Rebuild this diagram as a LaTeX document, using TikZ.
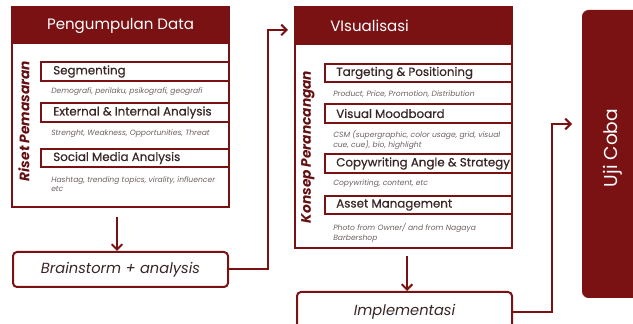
\documentclass[tikz,border=0pt]{standalone}
\usepackage{fontspec}
\setmainfont{Poppins}
\newfontfamily\itemfont[FakeBold=0.5]{Poppins}
\usetikzlibrary{arrows.meta,fit}
\definecolor{maroon}{RGB}{122,18,20}
\definecolor{sidered}{RGB}{100,16,18}
\definecolor{ink}{RGB}{58,38,38}
\definecolor{note}{RGB}{110,96,96}

\begin{document}
\begin{tikzpicture}[x=0.75pt,y=-0.75pt,
  box/.style={fit={#1},inner sep=0pt},
  frame/.style={draw=maroon,line width=1.5pt},
  headfill/.style={fill=maroon},
  headtext/.style={text=white,font=\fontsize{11.3}{13}\selectfont,inner sep=0pt},
  itembox/.style={draw=maroon,line width=0.8pt,fill=white},
  itemtext/.style={text=ink,font=\itemfont\fontsize{8.9}{10}\selectfont,inner sep=0pt,anchor=west},
  notetext/.style={text=note,font=\fontsize{5.7}{7.4}\selectfont\itshape,inner sep=0pt,anchor=north west,align=left},
  sidetext/.style={text=sidered,font=\fontsize{10.3}{12}\selectfont\bfseries\itshape,rotate=90,inner sep=0pt},
  roundbox/.style={draw=maroon,line width=1.5pt,rounded corners=3pt,fill=white},
  flowtext/.style={text=ink,font=\fontsize{11}{13}\selectfont\itshape,inner sep=0pt},
  link/.style={draw=maroon,line width=1.5pt,-{Straight Barb[length=4pt,width=8pt,line width=1.5pt]}},
]
\clip (0,0) rectangle (633,324);

% ---------- Pengumpulan Data ----------
\node[box={(12,7)(229,207)}] (panelA) {};
\node[box={(12,7)(229,44)},headfill] (hdrA) {};
\node[headtext] at (hdrA.center) {Pengumpulan Data};
\node[box={(41,62)(229,81)},itembox] (segA) {};
\node[itemtext] at (53,71.5) {Segmenting};
\node[notetext] at (51,87) {Demografi, perilaku, psikografi, geografi};
\node[box={(41,103)(229,122)},itembox] (extA) {};
\node[itemtext] at (53,112.5) {External \& Internal Analysis};
\node[notetext] at (51,129) {Strenght, Weakness, Opportunities, Threat};
\node[box={(41,149)(229,167)},itembox] (socA) {};
\node[itemtext] at (53,158) {Social Media Analysis};
\node[notetext] at (51,176) {Hashtag, trending topics, virality, influencer\\etc};
\node[sidetext] (sideA) at (24,121) {Riset Pemasaran};
\draw[frame] (panelA.north west) rectangle (panelA.south east);

% ---------- Visualisasi ----------
\node[box={(295,7)(512,248)}] (panelB) {};
\node[box={(295,7)(512,45)},headfill] (hdrB) {};
\node[headtext,anchor=west] at (330,26) {VIsualisasi};
\node[box={(325,64)(512,82)},itembox] (tgtB) {};
\node[itemtext] at (336,73) {Targeting \& Positioning};
\node[notetext] at (333,90) {Product, Price, Promotion, Distribution};
\node[box={(325,104)(512,123)},itembox] (visB) {};
\node[itemtext] at (336,113.5) {Visual Moodboard};
\node[notetext] at (333,130) {CSM (supergraphic, color usage, grid, visual\\cue, cue), bio, highlight};
\node[box={(325,154)(512,173)},itembox] (copB) {};
\node[itemtext] at (336,163.5) {Copywriting Angle \& Strategy};
\node[notetext] at (333,179) {Copywriting, content, etc};
\node[box={(325,196)(512,214)},itembox] (astB) {};
\node[itemtext] at (336,205) {Asset Management};
\node[notetext] at (333,223) {Photo from Owner/ and from Nagaya\\Barbershop};
\node[sidetext] (sideB) at (308,147) {Konsep Perancangan};
\draw[frame] (panelB.north west) rectangle (panelB.south east);

% ---------- flow boxes ----------
\node[box={(13,252)(228,287)},roundbox] (brain) {};
\node[flowtext] at (brain.center) {Brainstorm + analysis};
\node[box={(297,292)(512,332)},roundbox] (impl) {};
\node[flowtext] at (404.5,312) {Implementasi};
\node[box={(582,10)(645,298)},fill=maroon,rounded corners=5pt] (uji) {};
\node[text=white,font=\fontsize{14}{16}\selectfont,rotate=90,inner sep=0pt] at (613,148) {Uji Coba};

% ---------- connectors ----------
\coordinate (a1) at (117,217);
\draw[link] (a1) -- (brain.north -| a1);
\coordinate (b1) at (288,30);
\draw[link] (brain.east) -| (268,30) -- (b1);
\coordinate (c1) at (407,256);
\draw[link] (c1) -- (impl.north -| c1);
\coordinate (c2) at (572,124);
\draw[link] (impl.east) -| (552,124) -- (c2);
\end{tikzpicture}
\end{document}
